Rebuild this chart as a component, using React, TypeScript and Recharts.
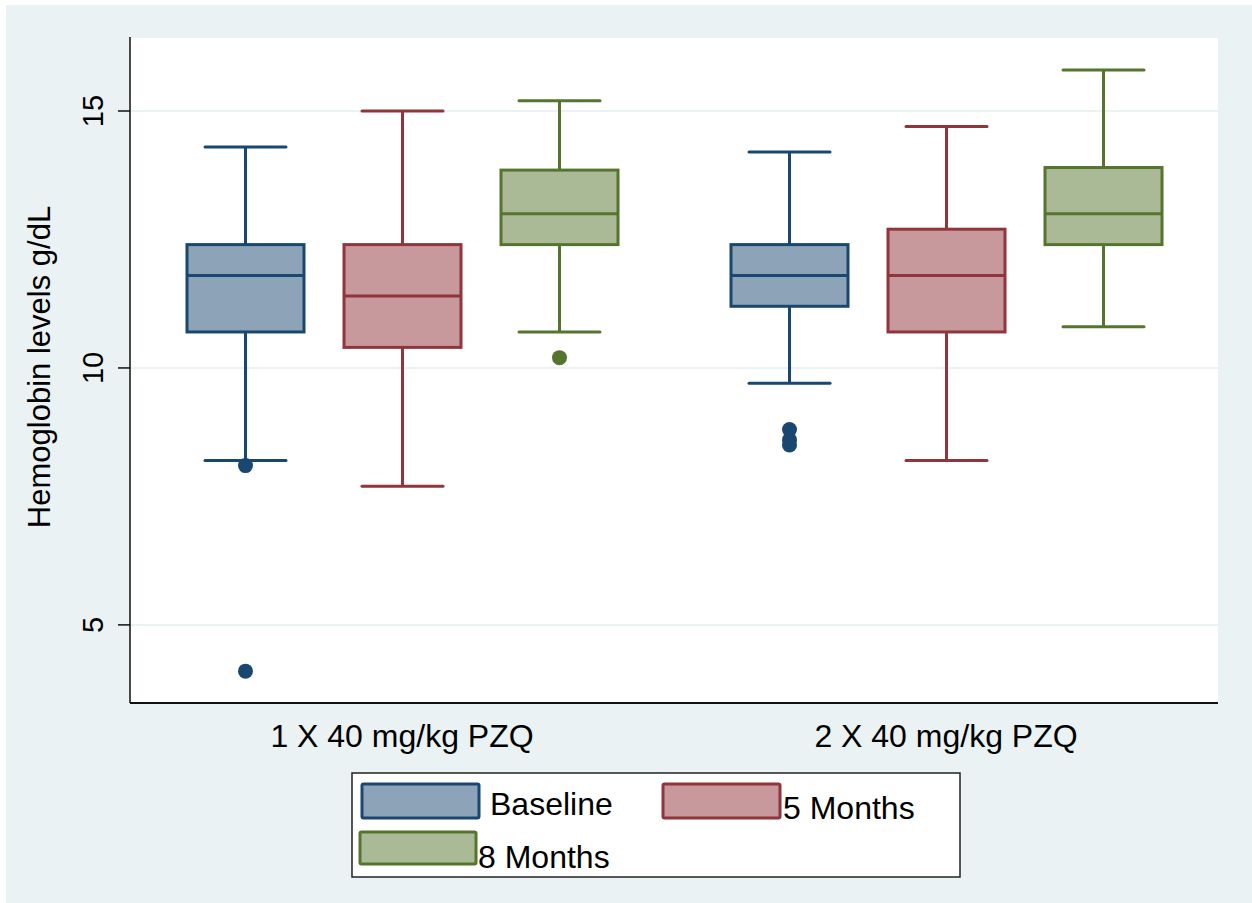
import { BarChart, Bar, XAxis, YAxis, CartesianGrid } from 'recharts';

// box stats per group: [lower whisker, q1, median, q3, upper whisker]
const groups = ['1 X 40 mg/kg PZQ', '2 X 40 mg/kg PZQ'];
const baselineBox = [
  [8.2, 10.7, 11.8, 12.4, 14.3],
  [9.7, 11.2, 11.8, 12.4, 14.2],
];
const month5Box = [
  [7.7, 10.4, 11.4, 12.4, 15.0],
  [8.2, 10.7, 11.8, 12.7, 14.7],
];
const month8Box = [
  [10.7, 12.4, 13.0, 13.85, 15.2],
  [10.8, 12.4, 13.0, 13.9, 15.8],
];
const baselineOut = [[8.1, 4.1], [8.8, 8.6, 8.5]];
const month5Out: number[][] = [[], []];
const month8Out = [[10.2], []];
const yTicks = [5, 10, 15];

const FONT = '"Liberation Sans", Arial, Helvetica, sans-serif';

const SERIES = [
  { key: 'baseline', name: 'Baseline', stroke: '#1a476f', fill: '#8da3b8', box: baselineBox, out: baselineOut },
  { key: 'm5', name: '5 Months', stroke: '#90353b', fill: '#c8999c', box: month5Box, out: month5Out },
  { key: 'm8', name: '8 Months', stroke: '#55752f', fill: '#abba96', box: month8Box, out: month8Out },
];

const chartData = groups.map((g, i) => {
  const row: Record<string, any> = { group: g };
  SERIES.forEach((s) => {
    row[s.key] = { box: s.box[i], out: s.out[i] };
  });
  return row;
});

function BoxShape(props: any) {
  const { x, y, width, height, payload, seriesKey, stroke, fill } = props;
  const stats = payload[seriesKey];
  const [lo, q1, med, q3, hi] = stats.box;
  const top = Math.min(y, y + height);
  const bot = Math.max(y, y + height);
  // bar spans lo..hi, map other values linearly inside it
  const py = (v: number) => bot + ((top - bot) * (v - lo)) / (hi - lo);
  const cx = x + width / 2;
  const cap = 40.5;
  return (
    <g>
      <line x1={cx} x2={cx} y1={py(hi)} y2={py(q3)} stroke={stroke} strokeWidth={3} />
      <line x1={cx} x2={cx} y1={py(q1)} y2={py(lo)} stroke={stroke} strokeWidth={3} />
      <line x1={cx - cap} x2={cx + cap} y1={py(hi)} y2={py(hi)} stroke={stroke} strokeWidth={3} strokeLinecap="round" />
      <line x1={cx - cap} x2={cx + cap} y1={py(lo)} y2={py(lo)} stroke={stroke} strokeWidth={3} strokeLinecap="round" />
      <rect x={x} y={py(q3)} width={width} height={py(q1) - py(q3)} fill={fill} stroke={stroke} strokeWidth={3} />
      <line x1={x} x2={x + width} y1={py(med)} y2={py(med)} stroke={stroke} strokeWidth={3} />
      {stats.out.map((v: number, i: number) => (
        <circle key={i} cx={cx} cy={py(v)} r={7.5} fill={stroke} />
      ))}
    </g>
  );
}

function YTick({ x, y, payload }: any) {
  return (
    <text
      transform={`translate(${x},${y}) rotate(-90)`}
      textAnchor="middle"
      fontFamily={FONT}
      fontSize={29}
      fill="#000"
    >
      {payload.value}
    </text>
  );
}

function XTick({ x, y, payload }: any) {
  return (
    <text x={x} y={y + 36} textAnchor="middle" fontFamily={FONT} fontSize={32} fill="#000">
      {payload.value}
    </text>
  );
}

function YLabel({ viewBox }: any) {
  const cx = viewBox.x + 20;
  const cy = viewBox.y + viewBox.height / 2 - 3;
  return (
    <text
      transform={`translate(${cx},${cy}) rotate(-90)`}
      textAnchor="middle"
      fontFamily={FONT}
      fontSize={31}
      fill="#000"
    >
      Hemoglobin levels g/dL
    </text>
  );
}

const LEGEND_POS = [
  { sx: 362, sy: 784, w: 117, h: 34, tx: 490, ty: 815 },
  { sx: 663, sy: 784, w: 117, h: 34, tx: 783, ty: 819 },
  { sx: 360, sy: 832, w: 116, h: 32, tx: 478, ty: 868 },
];

export default function App() {
  return (
    <div style={{ position: 'relative', width: 1252, height: 903, background: '#fff' }}>
      <style>{'body{margin:0}'}</style>
      <div style={{ position: 'absolute', left: 6, top: 5, width: 1246, height: 898, background: '#eaf2f3' }} />
      <div style={{ position: 'absolute', left: 0, top: 0 }}>
        <BarChart
          width={1252}
          height={903}
          data={chartData}
          margin={{ top: 37, right: 34, left: 30, bottom: 140 }}
          barGap={40}
        >
          <CartesianGrid vertical={false} fill="#fff" stroke="#eaf2f3" strokeWidth={2} />
          <XAxis
            dataKey="group"
            height={60}
            tickLine={false}
            axisLine={{ stroke: '#111', strokeWidth: 2 }}
            tick={<XTick />}
            interval={0}
          />
          <YAxis
            type="number"
            width={100}
            domain={[3.48, 16.44]}
            allowDataOverflow
            ticks={yTicks}
            tickSize={12}
            tickMargin={15}
            tickLine={{ stroke: '#111', strokeWidth: 1.5 }}
            axisLine={{ stroke: '#111', strokeWidth: 1.5 }}
            tick={<YTick />}
            label={{ content: <YLabel /> }}
          />
          {SERIES.map((s) => (
            <Bar
              key={s.key}
              name={s.name}
              dataKey={(d: any) => [d[s.key].box[0], d[s.key].box[4]]}
              barSize={117}
              isAnimationActive={false}
              shape={(p: any) => <BoxShape {...p} seriesKey={s.key} stroke={s.stroke} fill={s.fill} />}
              activeBar={false}
            />
          ))}
        </BarChart>
      </div>
      <svg style={{ position: 'absolute', left: 0, top: 0 }} width={1252} height={903}>
        <rect x={352} y={773} width={608} height={104} fill="#fff" stroke="#222" strokeWidth={1.5} />
        {SERIES.map((s, i) => {
          const p = LEGEND_POS[i];
          return (
            <g key={s.key}>
              <rect x={p.sx} y={p.sy} width={p.w} height={p.h} fill={s.fill} stroke={s.stroke} strokeWidth={3} rx={1.5} />
              <text x={p.tx} y={p.ty} fontFamily={FONT} fontSize={32} fill="#000">
                {s.name}
              </text>
            </g>
          );
        })}
      </svg>
    </div>
  );
}
